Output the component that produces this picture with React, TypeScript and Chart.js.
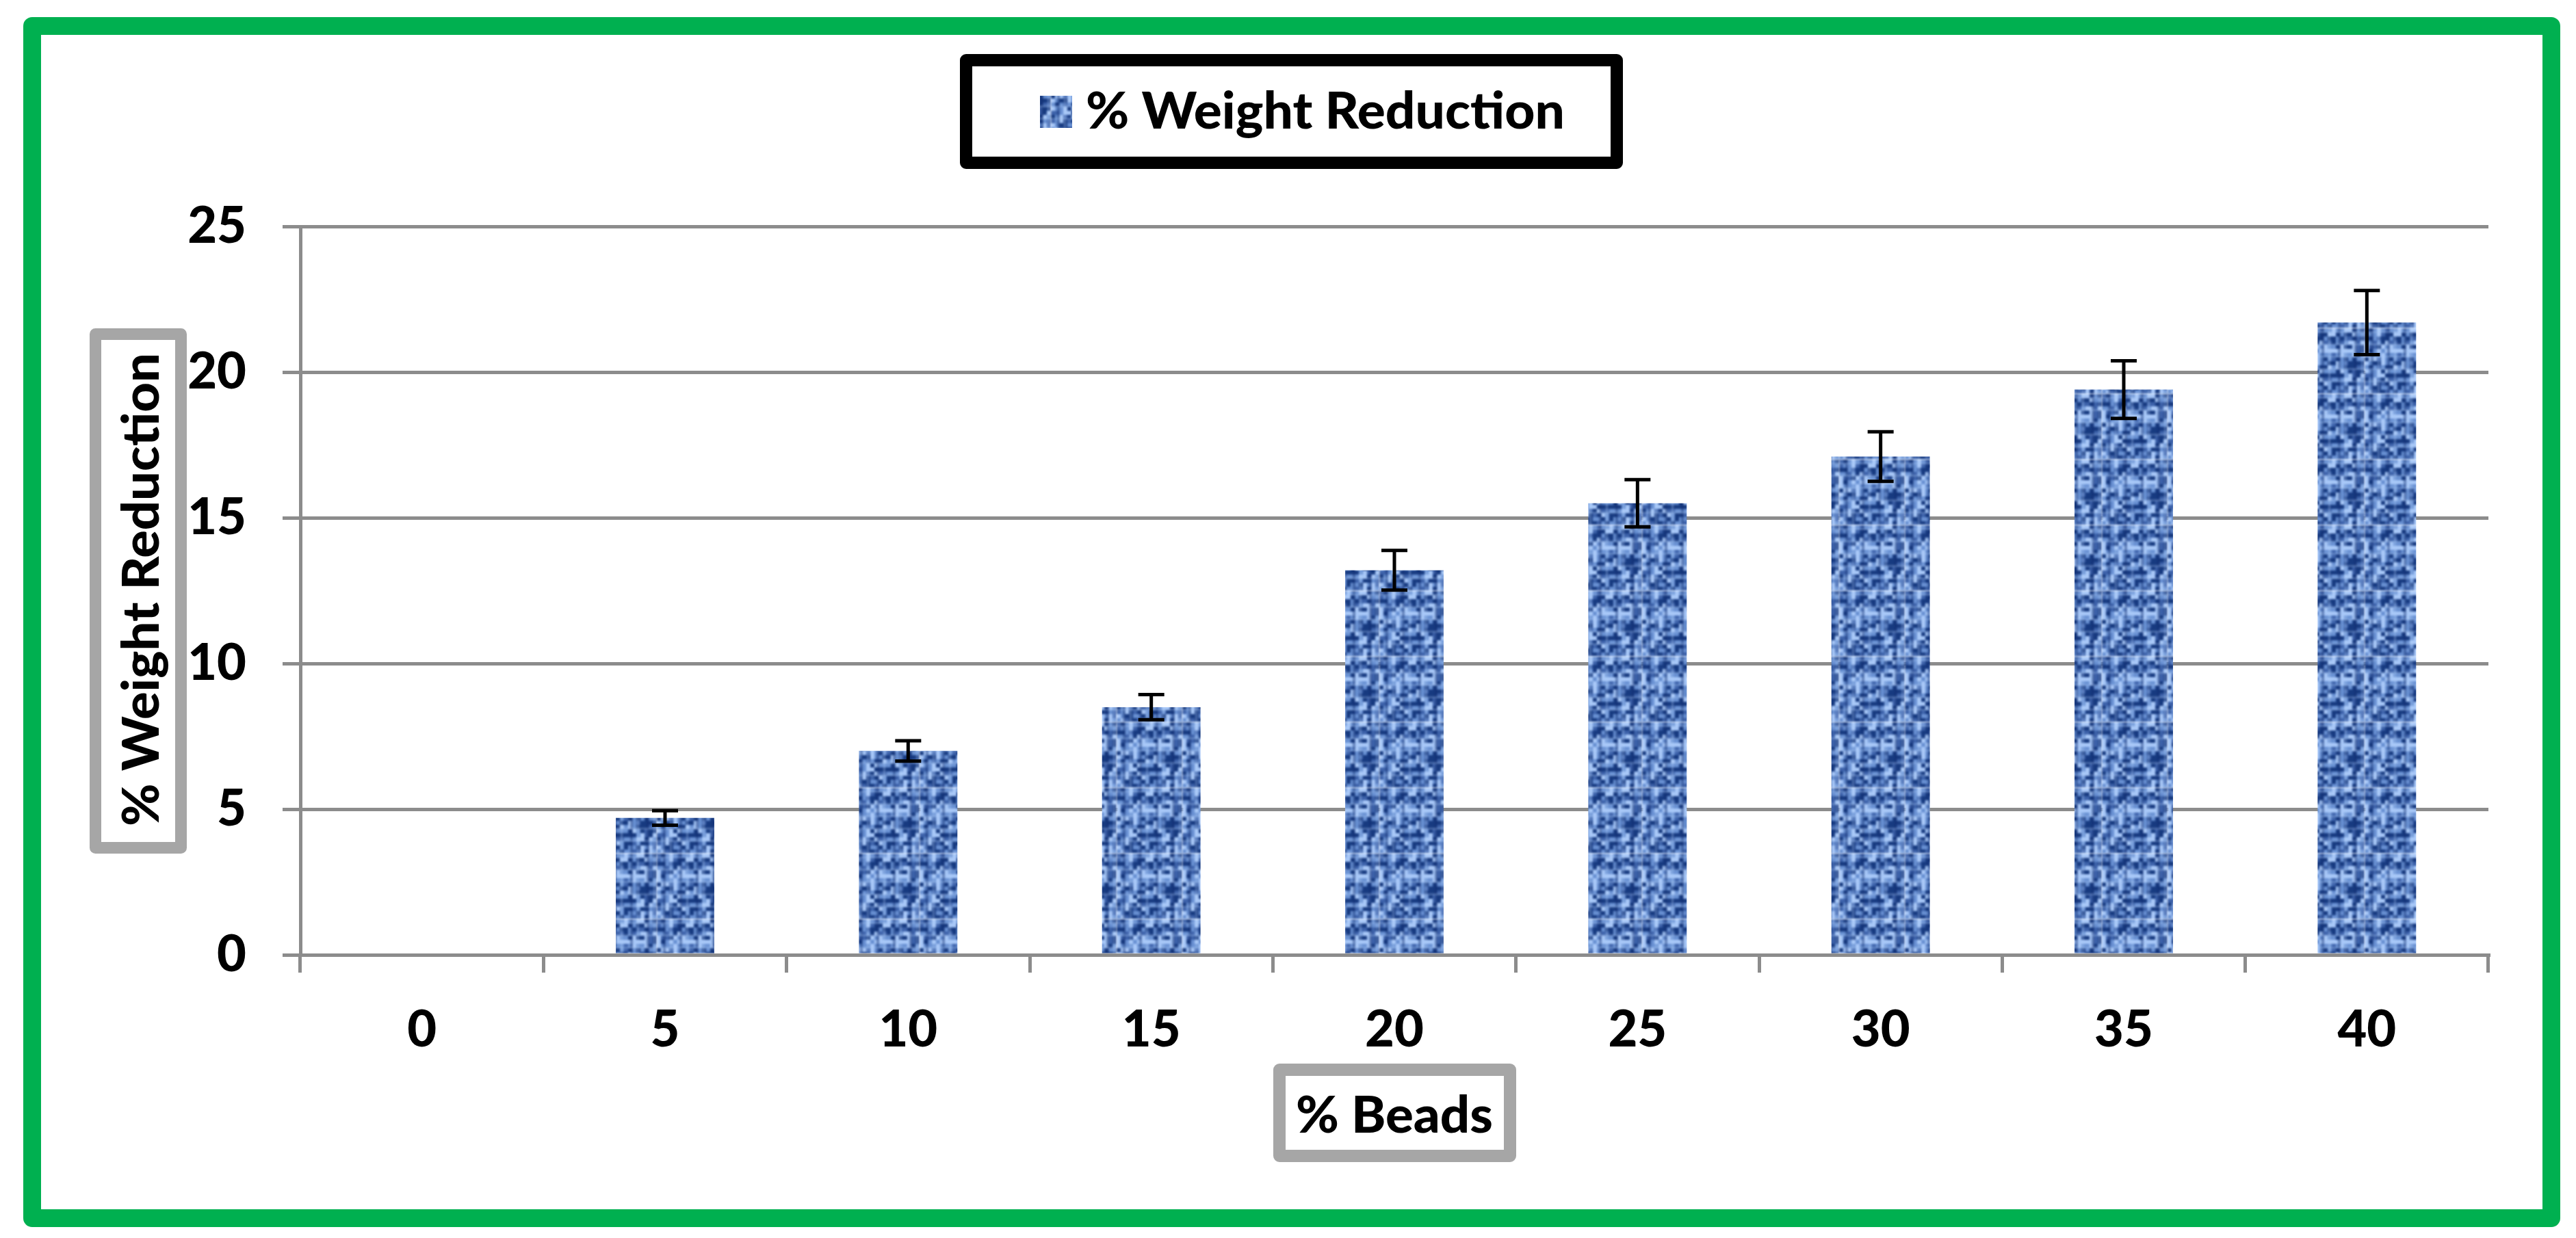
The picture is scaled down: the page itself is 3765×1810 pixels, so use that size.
import React, { useEffect, useRef } from "react";
import { Chart, registerables } from "chart.js";

Chart.register(...registerables);

// ---- data ----
const categories = ["0", "5", "10", "15", "20", "25", "30", "35", "40"];
const weightReduction = [0, 4.7, 7.0, 8.5, 13.2, 15.5, 17.1, 19.4, 21.7];
const errorValues = [0, 0.25, 0.35, 0.43, 0.68, 0.81, 0.85, 0.99, 1.1];
const seriesLabel = "% Weight Reduction";
const xTitle = "% Beads";
const yTitle = "% Weight Reduction";
const yMin = 0;
const yMax = 25;
const yStep = 5;

const W = 3765;
const H = 1810;
const FONT = "Lato, 'Open Sans', sans-serif";
const WEIGHT = "900";
const GRID = "#8c8c8c";

function hash(i: number, j: number): number {
  let n = Math.imul(i + 17, 374761393) ^ Math.imul(j + 31, 668265263);
  n = Math.imul(n ^ (n >>> 13), 1274126177);
  n = n ^ (n >>> 16);
  return (n >>> 0) / 4294967295;
}

function makeTexture(): CanvasPattern | string {
  const size = 96;
  const raw = document.createElement("canvas");
  raw.width = size;
  raw.height = size;
  const g = raw.getContext("2d");
  if (!g) return "#5f82c4";
  g.fillStyle = "#5e84c8";
  g.fillRect(0, 0, size, size);
  const cw = 6;
  const ch = 6;
  for (let j = 0; j < size / ch; j++) {
    for (let i = 0; i < size / cw; i++) {
      const v = hash(i, j);
      let col = "#6890d2";
      if (v < 0.28) col = "#173a80";
      else if (v < 0.45) col = "#3d62aa";
      else if (v > 0.75) col = "#a8c8f8";
      g.fillStyle = col;
      g.fillRect(i * cw, j * ch, cw, ch);
    }
  }
  // woven streaks
  for (let i = 0; i < size; i += 24) {
    g.fillStyle = "rgba(15,45,110,0.45)";
    g.fillRect(i + 9, 0, 4, size);
    g.fillStyle = "rgba(175,205,250,0.35)";
    g.fillRect(i + 19, 0, 3, size);
  }
  for (let j = 0; j < size; j += 18) {
    g.fillStyle = "rgba(175,205,250,0.3)";
    g.fillRect(0, j + 4, size, 3);
  }
  const soft = document.createElement("canvas");
  soft.width = size;
  soft.height = size;
  const s = soft.getContext("2d");
  if (!s) return "#5f82c4";
  s.filter = "blur(1.5px)";
  for (let dx = -1; dx <= 1; dx++) {
    for (let dy = -1; dy <= 1; dy++) {
      s.drawImage(raw, dx * size, dy * size);
    }
  }
  const p = s.createPattern(soft, "repeat");
  return p || "#5f82c4";
}

function fitText(
  ctx: CanvasRenderingContext2D,
  text: string,
  x: number,
  y: number,
  targetW: number
) {
  const w = ctx.measureText(text).width;
  let sx = targetW / w;
  if (sx > 1.15) sx = 1.15;
  if (sx < 0.8) sx = 0.8;
  ctx.save();
  ctx.translate(x, y);
  ctx.scale(sx, 1);
  ctx.textAlign = "center";
  ctx.textBaseline = "alphabetic";
  ctx.fillText(text, 0, 0);
  ctx.restore();
}

export default function App() {
  const ref = useRef<HTMLCanvasElement | null>(null);

  useEffect(() => {
    document.body.style.margin = "0";
    document.body.style.overflow = "hidden";
    const canvas = ref.current;
    if (!canvas) return;
    const texture = makeTexture();

    const decorations = {
      id: "decorations",
      afterDatasetsDraw(chart: any) {
        const ctx: CanvasRenderingContext2D = chart.ctx;
        const meta = chart.getDatasetMeta(0);
        const ys = chart.scales.y;
        ctx.save();
        ctx.strokeStyle = "#000000";
        ctx.lineWidth = 5;
        ctx.lineCap = "butt";
        meta.data.forEach((bar: any, i: number) => {
          const e = errorValues[i];
          if (!e) return;
          const v = weightReduction[i];
          const yt = ys.getPixelForValue(v + e);
          const yb = ys.getPixelForValue(v - e);
          const x = bar.x;
          const half = 19;
          ctx.beginPath();
          ctx.moveTo(x, yt);
          ctx.lineTo(x, yb);
          ctx.moveTo(x - half, yt);
          ctx.lineTo(x + half, yt);
          ctx.moveTo(x - half, yb);
          ctx.lineTo(x + half, yb);
          ctx.stroke();
        });
        ctx.restore();
      },
      afterDraw(chart: any) {
        const ctx: CanvasRenderingContext2D = chart.ctx;
        ctx.save();
        ctx.lineJoin = "round";
        // outer green frame
        ctx.strokeStyle = "#00b050";
        ctx.lineWidth = 26;
        ctx.strokeRect(47, 38, 3682, 1743);

        // legend box
        ctx.strokeStyle = "#000000";
        ctx.lineWidth = 18;
        ctx.strokeRect(1412, 88, 951, 150);
        ctx.fillStyle = texture as any;
        ctx.fillRect(1520, 140, 47, 47);
        ctx.fillStyle = "#000000";
        ctx.font = `${WEIGHT} 74px ${FONT}`;
        fitText(ctx, seriesLabel, 1937, 188, 700);

        // x title box
        ctx.strokeStyle = "#a6a6a6";
        ctx.lineWidth = 18;
        ctx.strokeRect(1870, 1564, 337, 126);
        ctx.fillStyle = "#000000";
        fitText(ctx, xTitle, 2038, 1656, 288);

        // y title box
        ctx.lineWidth = 17;
        ctx.strokeRect(139.5, 488.5, 125, 751);
        ctx.save();
        ctx.translate(232, 862);
        ctx.rotate(-Math.PI / 2);
        fitText(ctx, yTitle, 0, 0, 692);
        ctx.restore();
        ctx.restore();
      },
    };

    const chart = new Chart(canvas, {
      type: "bar",
      data: {
        labels: categories,
        datasets: [
          {
            label: seriesLabel,
            data: weightReduction,
            backgroundColor: texture as any,
            borderWidth: 0,
            categoryPercentage: 1,
            barPercentage: 0.405,
          },
        ],
      },
      options: {
        animation: false,
        responsive: false,
        devicePixelRatio: 1,
        layout: { padding: { left: 100, right: 128, top: 331, bottom: 0 } },
        plugins: {
          legend: { display: false },
          tooltip: { enabled: false },
          title: { display: false },
        },
        scales: {
          x: {
            offset: true,
            grid: {
              display: true,
              drawOnChartArea: false,
              drawTicks: true,
              tickLength: 26,
              color: GRID,
              lineWidth: 5,
              offset: true,
            },
            border: { display: true, color: GRID, width: 5 },
            ticks: {
              color: "#000000",
              font: { family: FONT, weight: WEIGHT as any, size: 74 },
              padding: 40,
              maxRotation: 0,
              autoSkip: false,
            },
            afterFit(scale: any) {
              scale.height = 414;
            },
          },
          y: {
            min: yMin,
            max: yMax,
            grid: {
              color: GRID,
              lineWidth: 5,
              tickLength: 26,
              drawTicks: true,
            },
            border: { display: true, color: GRID, width: 5 },
            ticks: {
              stepSize: yStep,
              color: "#000000",
              font: { family: FONT, weight: WEIGHT as any, size: 74 },
              padding: 53,
            },
            afterFit(scale: any) {
              scale.width = 339;
            },
          },
        },
      },
      plugins: [decorations],
    });

    return () => {
      chart.destroy();
    };
  }, []);

  return (
    <div style={{ width: W, height: H, background: "#ffffff" }}>
      <canvas
        ref={ref}
        width={W}
        height={H}
        style={{ display: "block", width: W, height: H }}
      />
    </div>
  );
}
